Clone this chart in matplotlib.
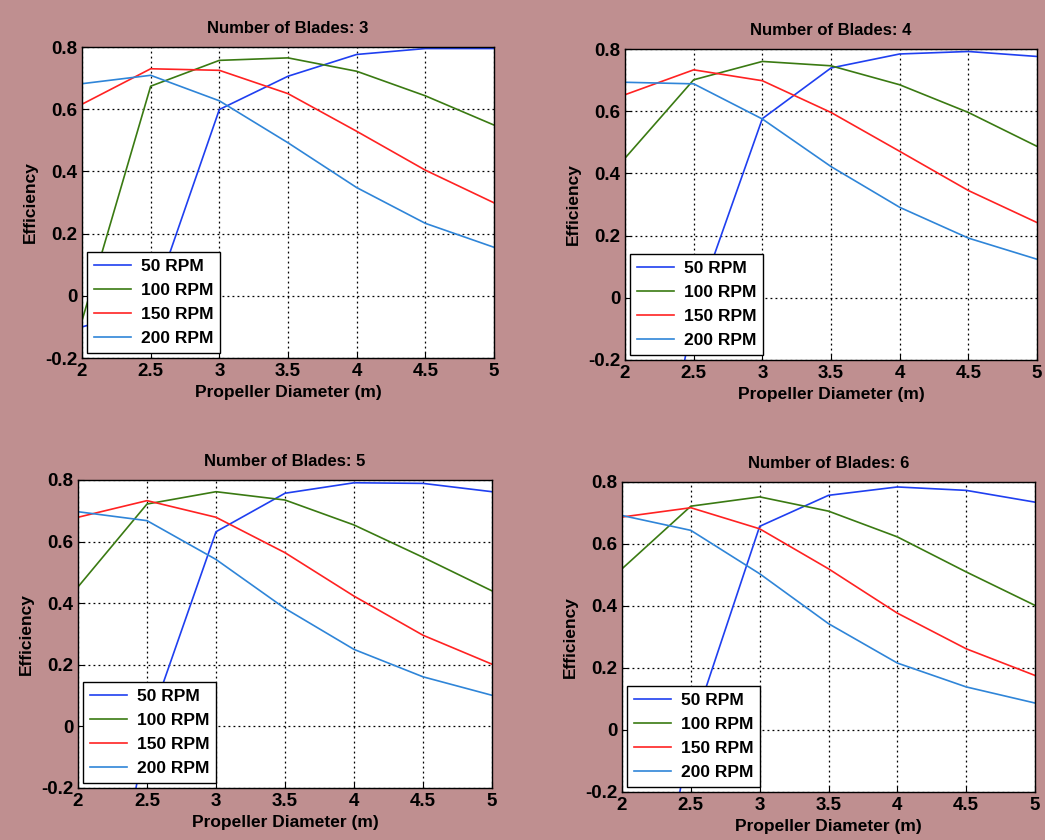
import matplotlib
matplotlib.use("Agg")
import matplotlib.pyplot as plt

diameter = [2, 2.5, 3, 3.5, 4, 4.5, 5]
rpm_labels = ["50 RPM", "100 RPM", "150 RPM", "200 RPM"]
blades = [3, 4, 5, 6]

# efficiency, one list per RPM for each blade count
eff_b3 = [
    [-0.10, -0.04, 0.599, 0.706, 0.776, 0.795, 0.795],
    [-0.08, 0.674, 0.757, 0.765, 0.722, 0.643, 0.549],
    [0.616, 0.730, 0.725, 0.650, 0.529, 0.404, 0.299],
    [0.682, 0.709, 0.627, 0.492, 0.348, 0.233, 0.156],
]
eff_b4 = [
    [-1.2, -0.05, 0.576, 0.739, 0.784, 0.792, 0.776],
    [0.449, 0.701, 0.760, 0.746, 0.685, 0.596, 0.487],
    [0.653, 0.733, 0.698, 0.596, 0.471, 0.345, 0.242],
    [0.693, 0.688, 0.575, 0.422, 0.291, 0.192, 0.124],
]
eff_b5 = [
    [-1.2, -0.01, 0.632, 0.757, 0.791, 0.789, 0.762],
    [0.453, 0.722, 0.762, 0.735, 0.654, 0.549, 0.440],
    [0.679, 0.733, 0.679, 0.564, 0.423, 0.296, 0.202],
    [0.697, 0.668, 0.542, 0.383, 0.250, 0.161, 0.101],
]
eff_b6 = [
    [-1.2, -0.01, 0.657, 0.757, 0.784, 0.773, 0.735],
    [0.520, 0.722, 0.752, 0.706, 0.623, 0.510, 0.402],
    [0.687, 0.717, 0.649, 0.520, 0.377, 0.262, 0.176],
    [0.692, 0.644, 0.504, 0.343, 0.216, 0.139, 0.087],
]
all_eff = [eff_b3, eff_b4, eff_b5, eff_b6]

colors = ["#1f3ff0", "#3a7a12", "#ff2222", "#2f85d8"]
xticks = [2, 2.5, 3, 3.5, 4, 4.5, 5]
xticklabels = ["2", "2.5", "3", "3.5", "4", "4.5", "5"]
yticks = [-0.2, 0, 0.2, 0.4, 0.6, 0.8]
yticklabels = ["-0.2", "0", "0.2", "0.4", "0.6", "0.8"]

plt.rcParams["font.family"] = ["Liberation Sans", "DejaVu Sans"]
plt.rcParams["font.weight"] = "bold"

W, H = 1045, 840
fig = plt.figure(figsize=(W / 100, H / 100), dpi=100, facecolor="#bf8f90")

# axes boxes in pixels: left, top, right, bottom
boxes = [(82, 47, 494, 358), (625, 49, 1037, 360),
         (78, 480, 492, 788), (622, 482, 1035, 792)]

for i in range(4):
    l, t, r, b = boxes[i]
    ax = fig.add_axes([l / W, 1 - b / H, (r - l) / W, (b - t) / H])
    for j in range(4):
        ax.plot(diameter, all_eff[i][j], color=colors[j], lw=1.2, label=rpm_labels[j])
    ax.set_xlim(2, 5)
    ax.set_ylim(-0.2, 0.8)
    ax.set_xticks(xticks)
    ax.set_xticklabels(xticklabels, fontsize=13.5, fontweight="bold")
    ax.set_yticks(yticks)
    ax.set_yticklabels(yticklabels, fontsize=13.5, fontweight="bold")
    ax.tick_params(direction="in", length=4)
    ax.tick_params(axis="x", pad=3.5)
    ax.tick_params(axis="y", pad=3.5)
    ax.grid(True, color="black", linestyle=(0, (1.5, 2.5)), lw=0.9)
    for s in ax.spines.values():
        s.set_linewidth(1.0)
    ax.set_title("Number of Blades: %d" % blades[i], fontsize=12, fontweight="bold", pad=10)
    ax.set_xlabel("Propeller Diameter (m)", fontsize=12.5, fontweight="bold", labelpad=4)
    ax.set_ylabel("Efficiency", fontsize=12.5, fontweight="bold", labelpad=5)
    leg = ax.legend(loc="lower left", fontsize=12.5, frameon=True, fancybox=False,
                    edgecolor="black", framealpha=1, borderaxespad=0.3,
                    handlelength=2.1, handletextpad=0.6, labelspacing=0.5,
                    borderpad=0.4)
    leg.get_frame().set_linewidth(1.0)
    for txt in leg.get_texts():
        txt.set_fontweight("bold")

fig.savefig("out.png", dpi=100, facecolor=fig.get_facecolor())
